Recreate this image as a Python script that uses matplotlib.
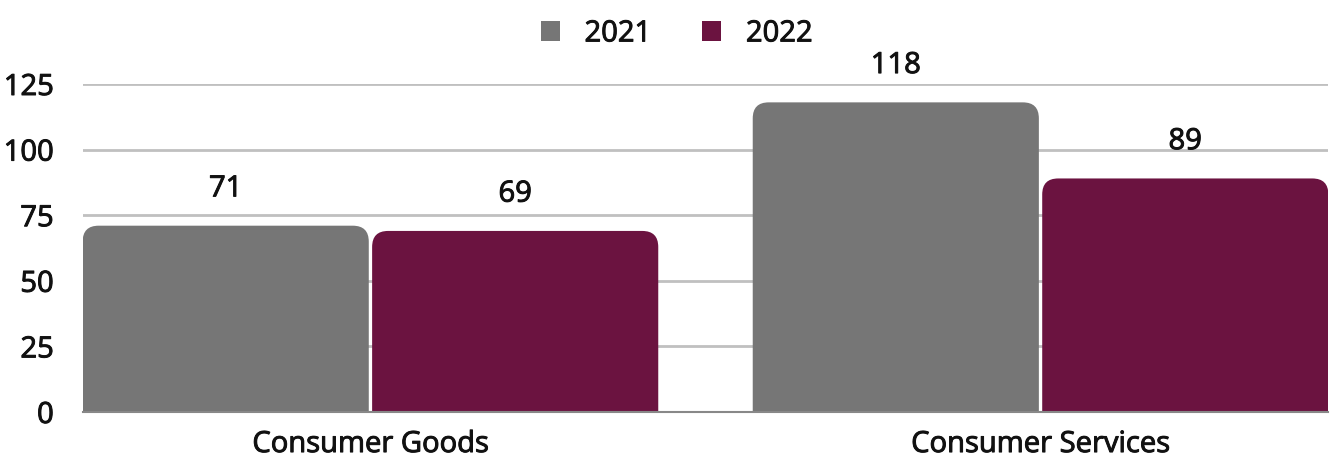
import numpy as np
import matplotlib
matplotlib.use("Agg")
from matplotlib import pyplot as plt
from matplotlib.path import Path
from matplotlib.patches import PathPatch, Patch
import matplotlib.patheffects as pe

categories = ["Consumer Goods", "Consumer Services"]
years = ["2021", "2022"]
values_2021 = [71, 118]
values_2022 = [69, 89]
yticks = [0, 25, 50, 75, 100, 125]

colors = ["#767676", "#6B1340"]
plt.rcParams['font.family'] = ['Open Sans', 'DejaVu Sans']
fs = 21
txtc = '#111111'
# slight stroke to get a medium-looking weight
bold = [pe.withStroke(linewidth=0.7, foreground=txtc)]

fig = plt.figure(figsize=(13.32, 4.57), dpi=100)
ax = fig.add_axes([0.0623, 0.0985, 0.9347, 0.7177])

x = np.arange(len(categories))
width = 0.427
offset = 0.216
ax.set_xlim(-0.429, 1.429)
ax.set_ylim(0, 125)

# plot area size in pixels, used to keep the corner round
px_x = 0.9347 * 1332 / (1.429 + 0.429)
px_y = 0.7177 * 457 / 125
r = 16

def rounded_bar(x0, w, h, color):
    rx = r / px_x
    ry = min(r / px_y, h)
    x1 = x0 + w
    verts = [(x0, 0), (x0, h - ry), (x0, h), (x0 + rx, h),
             (x1 - rx, h), (x1, h), (x1, h - ry), (x1, 0), (x0, 0)]
    codes = [Path.MOVETO, Path.LINETO, Path.CURVE3, Path.CURVE3,
             Path.LINETO, Path.CURVE3, Path.CURVE3, Path.LINETO, Path.CLOSEPOLY]
    ax.add_patch(PathPatch(Path(verts, codes), facecolor=color, edgecolor='none', zorder=3))

for i, vals in enumerate([values_2021, values_2022]):
    sign = -1 if i == 0 else 1
    for xi, v in zip(x, vals):
        c = xi + sign * offset
        rounded_bar(c - width / 2, width, v, colors[i])
        ax.text(c, v + 8.5, str(v), ha='center', va='bottom', fontsize=fs,
                color=txtc, clip_on=False, path_effects=bold)

ax.set_yticks(yticks)
ax.set_xticks(x)
ax.set_xticklabels(categories, fontsize=fs, color=txtc, path_effects=bold)
for t in ax.get_yticklabels():
    t.set_path_effects(bold)
ax.tick_params(axis='y', labelsize=fs, labelcolor=txtc, length=0, pad=21)
ax.tick_params(axis='x', length=0, pad=13)
ax.grid(axis='y', color='#C0C0C0', linewidth=2, zorder=0)
ax.set_axisbelow(True)
for s in ['top', 'right', 'left']:
    ax.spines[s].set_visible(False)
ax.spines['bottom'].set_color('#888888')
ax.spines['bottom'].set_linewidth(1.5)
ax.spines['bottom'].set_zorder(4)

handles = [Patch(facecolor=colors[0], label=years[0]),
           Patch(facecolor=colors[1], label=years[1])]
leg = fig.legend(handles=handles, loc='upper center', bbox_to_anchor=(0.508, 1.015),
                 ncol=2, frameon=False, fontsize=fs, handlelength=0.65, handleheight=0.65,
                 columnspacing=1.75, handletextpad=0.85)
for t in leg.get_texts():
    t.set_color(txtc)
    t.set_path_effects(bold)

fig.savefig("out.png", dpi=100)
